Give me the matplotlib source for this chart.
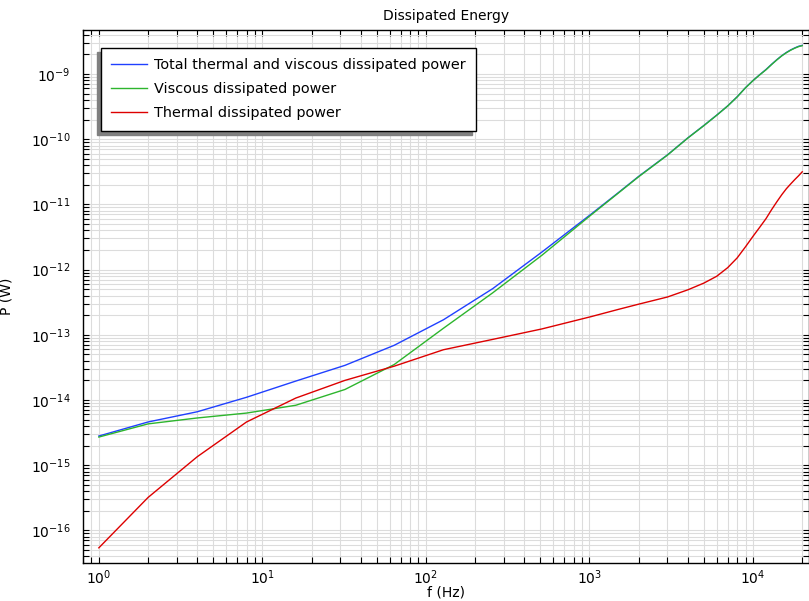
import numpy as np
import matplotlib
matplotlib.use("Agg")
import matplotlib.pyplot as plt
from matplotlib.ticker import LogLocator, NullFormatter

# --- données ---
freq = np.array([1, 2, 4, 8, 16, 32, 64, 128, 256, 512, 1024,
                 1500, 2000, 3000, 4000, 5000, 6000, 7000, 8000, 9000, 10000,
                 11000, 12000, 13000, 14000, 15000, 16000, 17000, 18000, 19000, 20000])

p_total = np.array([2.8e-15, 4.6e-15, 6.6e-15, 1.1e-14, 1.95e-14, 3.4e-14, 6.9e-14, 1.7e-13,
                    5.1e-13, 1.86e-12, 7.1e-12,
                    1.51e-11, 2.69e-11, 5.75e-11, 1.05e-10, 1.62e-10, 2.34e-10, 3.24e-10,
                    4.47e-10, 6.17e-10, 7.94e-10,
                    9.77e-10, 1.17e-9, 1.41e-9, 1.66e-9, 1.91e-9, 2.14e-9, 2.34e-9,
                    2.51e-9, 2.66e-9, 2.75e-9])

p_visqueux = np.array([2.7e-15, 4.3e-15, 5.3e-15, 6.3e-15, 8.3e-15, 1.45e-14, 3.5e-14, 1.26e-13,
                       4.4e-13, 1.66e-12, 6.9e-12,
                       1.49e-11, 2.66e-11, 5.71e-11, 1.045e-10, 1.61e-10, 2.33e-10, 3.23e-10,
                       4.45e-10, 6.15e-10, 7.91e-10,
                       9.72e-10, 1.16e-9, 1.40e-9, 1.65e-9, 1.90e-9, 2.12e-9, 2.32e-9,
                       2.49e-9, 2.63e-9, 2.72e-9])

p_thermique = np.array([5.4e-17, 3.2e-16, 1.35e-15, 4.6e-15, 1.07e-14, 2.0e-14, 3.3e-14, 5.9e-14,
                        8.5e-14, 1.23e-13, 1.9e-13,
                        2.45e-13, 2.95e-13, 3.8e-13, 4.9e-13, 6.2e-13, 7.9e-13, 1.07e-12,
                        1.51e-12, 2.24e-12, 3.24e-12,
                        4.47e-12, 6.03e-12, 8.32e-12, 1.10e-11, 1.41e-11, 1.74e-11, 2.06e-11,
                        2.40e-11, 2.75e-11, 3.16e-11])

labels = ["Total thermal and viscous dissipated power",
          "Viscous dissipated power",
          "Thermal dissipated power"]

plt.rcParams['font.family'] = 'DejaVu Sans'

fig = plt.figure(figsize=(8.09, 6.01), dpi=100)
ax = fig.add_axes([83 / 809, 38 / 601, 726 / 809, 533 / 601])

ax.loglog(freq, p_total, color="#2040ff", lw=1.0, label=labels[0])
ax.loglog(freq, p_visqueux, color="#2db52d", lw=1.0, label=labels[1])
ax.loglog(freq, p_thermique, color="#dd0000", lw=1.0, label=labels[2])

ax.set_xlim(0.8, 2.2e4)
ax.set_ylim(3.16e-17, 4.73e-9)

ax.xaxis.set_minor_locator(LogLocator(base=10, subs=np.arange(2, 10), numticks=50))
ax.yaxis.set_minor_locator(LogLocator(base=10, subs=np.arange(2, 10), numticks=50))
ax.xaxis.set_minor_formatter(NullFormatter())
ax.yaxis.set_minor_formatter(NullFormatter())

ax.grid(True, which="both", color="#dcdcdc", lw=0.8)
ax.set_axisbelow(True)
ax.tick_params(which="both", direction="in", length=4.5, width=0.8,
               top=True, right=True, labelsize=10, colors="black")
ax.tick_params(axis="y", pad=9)
ax.tick_params(axis="x", pad=4)
for s in ax.spines.values():
    s.set_linewidth(1.0)

ax.set_title("Dissipated Energy", fontsize=10, pad=7)
ax.set_xlabel("f (Hz)", fontsize=10)
ax.set_ylabel("P (W)", fontsize=10)
ax.xaxis.set_label_coords(0.5, -0.043)
ax.yaxis.set_label_coords(-0.0964, 0.5)

leg = ax.legend(loc="upper left", bbox_to_anchor=(18 / 726, 1 - 18 / 533), borderaxespad=0,
                fancybox=False, framealpha=1, edgecolor="black", fontsize=10.4,
                handlelength=2.43, handletextpad=0.53, labelspacing=0.69, borderpad=0.72,
                shadow={'ox': -3, 'oy': -3, 'facecolor': '#808080', 'edgecolor': '#808080', 'alpha': 1})
leg.get_frame().set_linewidth(1.0)

fig.savefig("out.png", dpi=100)
